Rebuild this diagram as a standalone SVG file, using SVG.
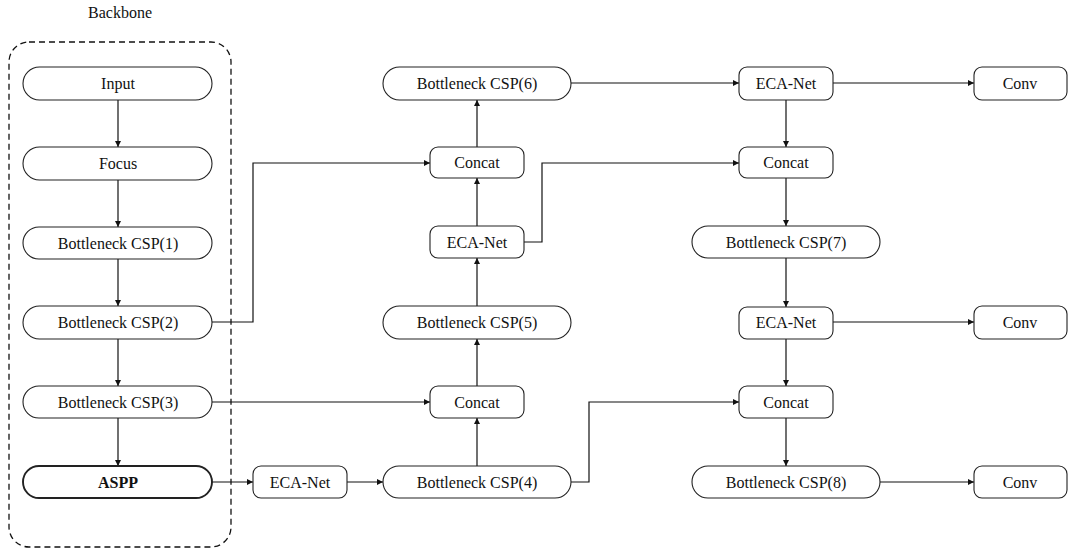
<svg xmlns="http://www.w3.org/2000/svg" width="1068" height="549" viewBox="0 0 1068 549">
<style>
.pill{fill:#fff;stroke:#222;stroke-width:1.1}
.box{fill:#fff;stroke:#222;stroke-width:1.1}
.bold{stroke-width:1.9}
text{font-family:'Liberation Serif','DejaVu Serif',serif;font-size:16px;fill:#111;text-anchor:middle}
.e{fill:none;stroke:#111;stroke-width:1.2}
</style>
<defs>
<marker id="ah" viewBox="0 0 10 10" refX="10" refY="5" markerWidth="8" markerHeight="6" markerUnits="userSpaceOnUse" orient="auto">
<path d="M0,0 L10,5 L0,10 z" fill="#111"/>
</marker>
</defs>
<rect x="9" y="42" width="222" height="505" rx="20" fill="none" stroke="#111" stroke-width="1.3" stroke-dasharray="6,4"/>
<text x="120" y="18" font-family="Liberation Serif, DejaVu Serif, serif">Backbone</text>
<g id="connectors">
<path class="e" marker-end="url(#ah)" d="M118,100 V147"/>
<path class="e" marker-end="url(#ah)" d="M118,180 V227"/>
<path class="e" marker-end="url(#ah)" d="M118,259 V306"/>
<path class="e" marker-end="url(#ah)" d="M118,339 V386"/>
<path class="e" marker-end="url(#ah)" d="M118,418 V466"/>
<path class="e" marker-end="url(#ah)" d="M212,322 H253 V163 H430"/>
<path class="e" marker-end="url(#ah)" d="M212,402 H430"/>
<path class="e" marker-end="url(#ah)" d="M212,482 H253"/>
<path class="e" marker-end="url(#ah)" d="M347,482 H383"/>
<path class="e" marker-end="url(#ah)" d="M477,466 V418"/>
<path class="e" marker-end="url(#ah)" d="M477,386 V339"/>
<path class="e" marker-end="url(#ah)" d="M477,306 V258"/>
<path class="e" marker-end="url(#ah)" d="M477,226 V178"/>
<path class="e" marker-end="url(#ah)" d="M477,147 V100"/>
<path class="e" marker-end="url(#ah)" d="M571,83 H739"/>
<path class="e" marker-end="url(#ah)" d="M524,242 H542 V163 H739"/>
<path class="e" marker-end="url(#ah)" d="M571,482 H589 V402 H739"/>
<path class="e" marker-end="url(#ah)" d="M786,100 V147"/>
<path class="e" marker-end="url(#ah)" d="M786,178 V226"/>
<path class="e" marker-end="url(#ah)" d="M786,258 V307"/>
<path class="e" marker-end="url(#ah)" d="M786,339 V386"/>
<path class="e" marker-end="url(#ah)" d="M786,418 V466"/>
<path class="e" marker-end="url(#ah)" d="M833,83 H974"/>
<path class="e" marker-end="url(#ah)" d="M833,322 H974"/>
<path class="e" marker-end="url(#ah)" d="M880,482 H974"/>
</g>
<g id="input"><rect class="pill" x="23" y="67" width="189" height="33" rx="16.5"/><text x="118" y="89">Input</text></g>
<g id="focus"><rect class="pill" x="23" y="147" width="189" height="33" rx="16.5"/><text x="118" y="169">Focus</text></g>
<g id="csp1"><rect class="pill" x="23" y="227" width="189" height="32" rx="16"/><text x="118" y="248.5">Bottleneck CSP(1)</text></g>
<g id="csp2"><rect class="pill" x="23" y="306" width="189" height="33" rx="16.5"/><text x="118" y="328">Bottleneck CSP(2)</text></g>
<g id="csp3"><rect class="pill" x="23" y="386" width="189" height="32" rx="16"/><text x="118" y="407.5">Bottleneck CSP(3)</text></g>
<g id="aspp"><rect class="pill bold" x="23" y="466" width="189" height="32" rx="16"/><text x="118" y="487.5" font-weight="bold">ASPP</text></g>
<g id="eca0"><rect class="box" x="253" y="466" width="94" height="32" rx="8"/><text x="300" y="487.5">ECA-Net</text></g>
<g id="csp4"><rect class="pill" x="383" y="466" width="188" height="32" rx="16"/><text x="477" y="487.5">Bottleneck CSP(4)</text></g>
<g id="concat2"><rect class="box" x="430" y="386" width="94" height="32" rx="8"/><text x="477" y="407.5">Concat</text></g>
<g id="csp5"><rect class="pill" x="383" y="306" width="188" height="33" rx="16.5"/><text x="477" y="328">Bottleneck CSP(5)</text></g>
<g id="eca1"><rect class="box" x="430" y="226" width="94" height="32" rx="8"/><text x="477" y="247.5">ECA-Net</text></g>
<g id="concat1"><rect class="box" x="430" y="147" width="94" height="31" rx="8"/><text x="477" y="168">Concat</text></g>
<g id="csp6"><rect class="pill" x="383" y="67" width="188" height="33" rx="16.5"/><text x="477" y="89">Bottleneck CSP(6)</text></g>
<g id="eca2"><rect class="box" x="739" y="67" width="94" height="33" rx="8"/><text x="786" y="89">ECA-Net</text></g>
<g id="concat3"><rect class="box" x="739" y="147" width="94" height="31" rx="8"/><text x="786" y="168">Concat</text></g>
<g id="csp7"><rect class="pill" x="692" y="226" width="188" height="32" rx="16"/><text x="786" y="247.5">Bottleneck CSP(7)</text></g>
<g id="eca3"><rect class="box" x="739" y="307" width="94" height="32" rx="8"/><text x="786" y="328">ECA-Net</text></g>
<g id="concat4"><rect class="box" x="739" y="386" width="94" height="32" rx="8"/><text x="786" y="407.5">Concat</text></g>
<g id="csp8"><rect class="pill" x="692" y="466" width="188" height="32" rx="16"/><text x="786" y="487.5">Bottleneck CSP(8)</text></g>
<g id="conv1"><rect class="box" x="974" y="67" width="93" height="33" rx="8"/><text x="1020" y="89">Conv</text></g>
<g id="conv2"><rect class="box" x="974" y="306" width="93" height="33" rx="8"/><text x="1020" y="328">Conv</text></g>
<g id="conv3"><rect class="box" x="974" y="466" width="93" height="32" rx="8"/><text x="1020" y="487.5">Conv</text></g>
</svg>
